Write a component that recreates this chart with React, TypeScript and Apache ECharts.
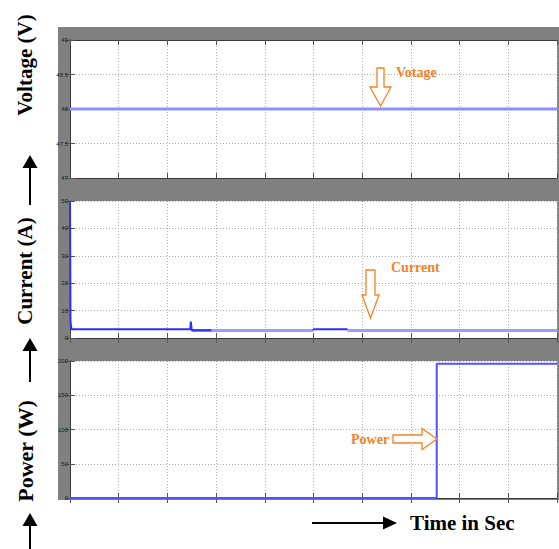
import React, { useEffect, useRef } from "react";
import * as echarts from "echarts";

// ---- data ----
const xTicks = { min: 0, max: 1, interval: 0.1 };
const voltageTime = [0, 1];
const voltageValues = [48, 48];
const voltageAxis = { min: 47, max: 49, interval: 0.5 };

// current (A): darker early segment + bump, lighter later segment
const currentDarkTime = [0, 0.001, 0.003, 0.247, 0.248, 0.25, 0.29, null, 0.5, 0.5, 0.57];
const currentDarkValues = [50, 6, 3.2, 3.2, 6, 2.8, 2.8, null, 2.8, 3.2, 3.2];
const currentLightTime = [0.25, 0.5, 0.5, 0.57, 0.57, 1];
const currentLightValues = [2.7, 2.7, null, null, 2.7, 2.7];
const currentAxis = { min: 0, max: 50, interval: 10 };

const powerTime = [0, 0.753, 0.753, 1];
const powerValues = [0, 0, 196, 196];
const powerAxis = { min: 0, max: 200, interval: 50 };

const sideLabels = ["Voltage (V)", "Current (A)", "Power (W)"];
const timeLabel = "Time in Sec";
const noteLabels = ["Votage", "Current", "Power"];

const zip = (t: (number | null)[], v: (number | null)[]) =>
  t.map((x, i) => (x === null || v[i] === null ? [null, null] : [x, v[i]]));

const SERIF = '"Liberation Serif", "Times New Roman", "DejaVu Serif", serif';
const ORANGE = "#F5821F";

export default function App() {
  const ref = useRef<HTMLDivElement>(null);
  useEffect(() => {
    if (!ref.current) return;
    const chart = echarts.init(ref.current, null, { renderer: "svg" });
    const grids = [
      { left: 70, top: 40, width: 487, height: 138 },
      { left: 70, top: 201, width: 487, height: 137 },
      { left: 70, top: 361, width: 487, height: 137 },
    ];
    const yDefs = [voltageAxis, currentAxis, powerAxis];
    const axisLine = { show: true, lineStyle: { color: "#3a3a3a", width: 1 } };
    const tick = { show: true, inside: true, length: 5, lineStyle: { color: "#555" } };
    const split = { show: true, lineStyle: { color: "#b0b0b0", type: [1, 2] as any, width: 1 } };
    const xAxis: any[] = [];
    const yAxis: any[] = [];
    grids.forEach((_, i) => {
      xAxis.push({
        type: "value", gridIndex: i, position: "bottom", ...xTicks, z: 2,
        axisLine, axisTick: tick, axisLabel: { show: false }, splitLine: split,
      });
      xAxis.push({
        type: "value", gridIndex: i, position: "top", ...xTicks, z: 2,
        axisLine, axisTick: tick, axisLabel: { show: false }, splitLine: { show: false },
      });
      yAxis.push({
        type: "value", gridIndex: i, position: "left", ...yDefs[i], z: 2,
        axisLine, axisTick: tick, splitLine: split,
        axisLabel: { show: true, fontSize: 6, color: "#1a1a1a", margin: 2, fontFamily: "Arial, sans-serif" },
      });
      yAxis.push({
        type: "value", gridIndex: i, position: "right", ...yDefs[i], z: 2,
        axisLine, axisTick: tick, axisLabel: { show: false }, splitLine: { show: false },
      });
    });
    const line = (x: number, data: any[], color: string, width: number) => ({
      type: "line", xAxisIndex: 2 * x, yAxisIndex: 2 * x, data, showSymbol: false,
      symbol: "none", connectNulls: false, lineStyle: { color, width }, z: 3,
    });

    const upArrow = (x: number, tipY: number, endY: number) => [
      { type: "line", shape: { x1: x, y1: endY, x2: x, y2: tipY + 12 }, style: { stroke: "#000", lineWidth: 2 } },
      { type: "polygon", shape: { points: [[x - 7.5, tipY + 13], [x + 7.5, tipY + 13], [x, tipY]] }, style: { fill: "#000" } },
    ];
    const hollow = (pts: number[][]) => ({
      type: "polygon", shape: { points: pts }, style: { fill: "#fff", stroke: ORANGE, lineWidth: 1.3 }, z: 10,
    });
    const note = (text: string, x: number, y: number) => ({
      type: "text", x, y, z: 10,
      style: { text, x: 0, y: 0, fill: ORANGE, font: `bold 14px ${SERIF}`, align: "left", verticalAlign: "middle" },
    });
    const side = (text: string, y: number, size: number) => ({
      type: "text", x: 25, y, rotation: Math.PI / 2,
      style: { text, x: 0, y: 0, fill: "#000", font: `bold ${size}px ${SERIF}`, align: "center", verticalAlign: "middle" },
    });

    chart.setOption({
      animation: false,
      backgroundColor: "#fff",
      grid: grids.map((g) => ({ ...g, show: true, backgroundColor: "#fff", borderWidth: 0 })),
      xAxis,
      yAxis,
      series: [
        line(0, zip(voltageTime, voltageValues), "#8e8eff", 3),
        line(1, zip(currentLightTime, currentLightValues), "#9c9cff", 3),
        line(1, zip(currentDarkTime, currentDarkValues), "#2d2dff", 2),
        line(2, zip(powerTime, powerValues), "#5252ff", 2),
      ],
      graphic: [
        { type: "rect", shape: { x: 58, y: 27, width: 501, height: 473 }, style: { fill: "#808080" }, z: -100 },
        side(sideLabels[0], 65, 21),
        side(sideLabels[1], 271, 21),
        side(sideLabels[2], 451, 22),
        ...upArrow(30, 155, 205),
        ...upArrow(30, 338, 382),
        ...upArrow(30, 513, 549),
        { type: "line", shape: { x1: 312, y1: 523, x2: 384, y2: 523 }, style: { stroke: "#000", lineWidth: 2 } },
        { type: "polygon", shape: { points: [[383, 516.5], [383, 529.5], [397, 523]] }, style: { fill: "#000" } },
        {
          type: "text", x: 410, y: 523,
          style: { text: timeLabel, x: 0, y: 0, fill: "#000", font: `bold 21px ${SERIF}`, align: "left", verticalAlign: "middle" },
        },
        hollow([[377, 68], [384, 68], [384, 87], [391, 87], [380.5, 106], [370, 87], [377, 87]]),
        note(noteLabels[0], 396, 72),
        hollow([[366, 270], [375, 270], [375, 295], [379, 295], [370.5, 318], [362, 295], [366, 295]]),
        note(noteLabels[1], 391, 267),
        hollow([[393, 435], [422, 435], [422, 428.5], [437, 439], [422, 449.5], [422, 443], [393, 443]]),
        note(noteLabels[2], 351, 439),
      ],
    });
    return () => chart.dispose();
  }, []);
  return <div ref={ref} style={{ position: "absolute", left: 0, top: 0, width: 559, height: 549 }} />;
}
